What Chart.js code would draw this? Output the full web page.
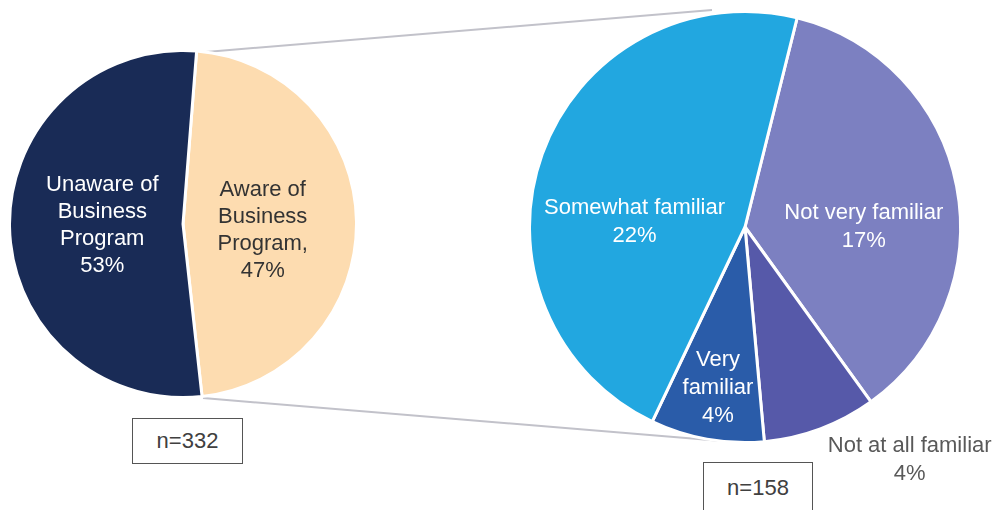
<!DOCTYPE html>
<html>
<head>
<meta charset="utf-8">
<script src="https://cdn.jsdelivr.net/npm/chart.js@4.4.1/dist/chart.umd.min.js"></script>
<style>
    body { margin: 0; background: #fff; font-family: "Liberation Sans", Arial, sans-serif; }
    #stage { position: relative; width: 997px; height: 510px; overflow: hidden; }
    canvas { position: absolute; }
    #links { position: absolute; left: 0; top: 0; }
    .nbox {
        position: absolute; border: 1px solid #555; background: #fff;
        font-size: 22px; color: #404040; text-align: center; box-sizing: border-box;
    }
</style>
</head>
<body>
<div id="stage">
    <svg id="links" width="997" height="510">
        <line x1="206" y1="52" x2="712" y2="10" stroke="#c2c2ca" stroke-width="2" />
        <line x1="203" y1="398" x2="722" y2="441" stroke="#c2c2ca" stroke-width="2" />
    </svg>
    <canvas id="aware" width="350" height="350" style="left:8px; top:49px"></canvas>
    <div class="nbox" style="left:132px; top:418px; width:111px; height:46px; line-height:44px">n=332</div>
    <div class="nbox" style="left:703px; top:462px; width:110px; height:60px; line-height:50px">n=158</div>
    <canvas id="familiar" width="469" height="500" style="left:528px; top:10px"></canvas>
</div>
<script>
// awareness of the business program (clockwise from the top)
const awareCategories = ['Aware of Business Program', 'Unaware of Business Program'];
const awareValues = [47, 53];
const awareLines = [['Aware of', 'Business', 'Program,'], ['Unaware of', 'Business', 'Program']];

// familiarity among those aware (% of all respondents)
const familiarCategories = ['Not very familiar', 'Not at all familiar', 'Very familiar', 'Somewhat familiar'];
const familiarValues = [17, 4, 4, 22];
const familiarLines = [['Not very familiar'], ['Not at all familiar'], ['Very', 'familiar'], ['Somewhat familiar']];

const sliceLabels = {
    id: 'sliceLabels',
    afterDatasetsDraw(chart, args, opts) {
        const ctx = chart.ctx;
        const values = chart.data.datasets[0].data;
        ctx.save();
        ctx.font = '22px "Liberation Sans", Arial, sans-serif';
        ctx.textAlign = 'center';
        ctx.textBaseline = 'middle';
        chart.getDatasetMeta(0).data.forEach((arc, i) => {
            const p = arc.tooltipPosition();
            const lines = opts.lines[i].concat([values[i] + '%']);
            const x = p.x + opts.nudge[i][0];
            const y = p.y + opts.nudge[i][1] - (lines.length - 1) * opts.lineHeight / 2;
            ctx.fillStyle = opts.colors[i];
            lines.forEach((t, j) => ctx.fillText(t, x, y + j * opts.lineHeight));
        });
        ctx.restore();
    }
};

function pie(id, labels, values, colors, rotation, padding, labelOpts) {
    return new Chart(document.getElementById(id), {
        type: 'pie',
        data: {
            labels: labels,
            datasets: [{
                data: values,
                backgroundColor: colors,
                borderColor: '#ffffff',
                borderWidth: 3
            }]
        },
        options: {
            responsive: false,
            animation: false,
            rotation: rotation,
            layout: { padding: padding },
            plugins: {
                legend: { display: false },
                tooltip: { enabled: false },
                sliceLabels: labelOpts
            }
        },
        plugins: [sliceLabels]
    });
}

pie('aware', awareCategories, awareValues, ['#fddcb0', '#192b56'], 4.5, 0, {
    lines: awareLines,
    colors: ['#333333', '#ffffff'],
    nudge: [[-7, 8], [6, 0]],
    lineHeight: 27
});

// extra room on the right / bottom so the outside label fits
pie('familiar', familiarCategories, familiarValues, ['#7c80c1', '#5659a9', '#2a5ca9', '#22a7e0'], 14,
    { left: 0, top: 0, right: 35, bottom: 66 }, {
    lines: familiarLines,
    colors: ['#ffffff', '#595959', '#ffffff', '#ffffff'],
    nudge: [[13, 20], [127, 132], [-8, 55], [-9, 31]],
    lineHeight: 28
});
</script>
</body>
</html>
